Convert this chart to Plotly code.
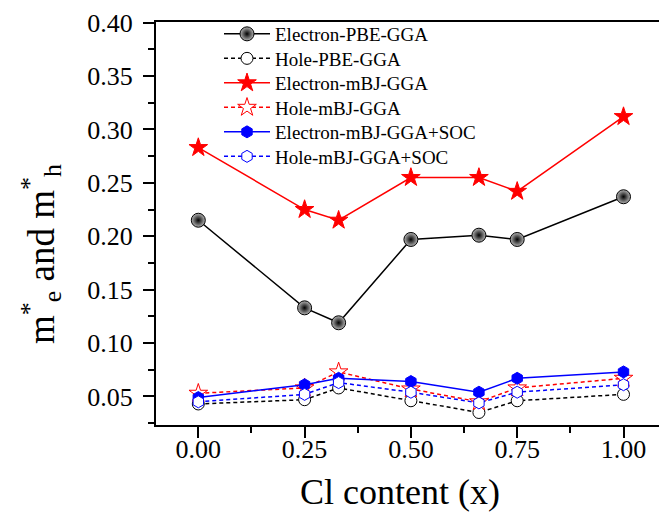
import plotly.graph_objects as go

# Chlorine content x
cl_content = [0.0, 0.25, 0.33, 0.50, 0.66, 0.75, 1.0]

# Effective masses (in units of m0)
electron_pbe = [0.215, 0.133, 0.119, 0.197, 0.201, 0.197, 0.237]
hole_pbe = [0.043, 0.047, 0.058, 0.046, 0.035, 0.046, 0.052]
electron_mbj = [0.283, 0.225, 0.215, 0.255, 0.255, 0.242, 0.312]
hole_mbj = [0.053, 0.058, 0.073, 0.057, 0.045, 0.058, 0.067]
electron_soc = [0.049, 0.061, 0.067, 0.064, 0.054, 0.067, 0.073]
hole_soc = [0.045, 0.052, 0.063, 0.054, 0.044, 0.054, 0.061]

x_ticks = [0.0, 0.25, 0.5, 0.75, 1.0]
y_ticks = [0.05, 0.10, 0.15, 0.20, 0.25, 0.30, 0.35, 0.40]

FONT = "Liberation Serif, Times New Roman, serif"
DASH = "4px,3px"

# plot area in pixels
L, T, W, H = 156, 22, 503, 403

series = [
    ("Electron-PBE-GGA", electron_pbe,
     dict(color="black", width=1.5),
     dict(symbol="circle", size=14, color="#b4b4b4",
          gradient=dict(type="radial", color="black"),
          line=dict(color="black", width=1))),
    ("Hole-PBE-GGA", hole_pbe,
     dict(color="black", width=1.5, dash=DASH),
     dict(symbol="circle", size=12, color="white",
          line=dict(color="black", width=1))),
    ("Electron-mBJ-GGA", electron_mbj,
     dict(color="red", width=1.5),
     dict(symbol="star", size=14, color="red",
          line=dict(color="red", width=1))),
    ("Hole-mBJ-GGA", hole_mbj,
     dict(color="red", width=1.5, dash=DASH),
     dict(symbol="star", size=14, color="white",
          line=dict(color="red", width=1))),
    ("Electron-mBJ-GGA+SOC", electron_soc,
     dict(color="blue", width=1.5),
     dict(symbol="hexagon", size=12, color="blue",
          line=dict(color="blue", width=1))),
    ("Hole-mBJ-GGA+SOC", hole_soc,
     dict(color="blue", width=1.5, dash=DASH),
     dict(symbol="hexagon", size=12, color="white",
          line=dict(color="blue", width=1))),
]

fig = go.Figure()
legend_layout = {}
for i, (name, values, line, marker) in enumerate(series):
    key = "legend" if i == 0 else f"legend{i + 1}"
    fig.add_trace(go.Scatter(
        x=cl_content, y=values, name=name, mode="lines+markers",
        line=line, marker=marker, legend=key,
    ))
    row_center = 34 + 24.5 * i
    legend_layout[key] = dict(
        x=(219 - L) / W, y=(T + H - row_center) / H,
        xanchor="left", yanchor="middle",
        bgcolor="rgba(0,0,0,0)", borderwidth=0,
        font=dict(family=FONT, size=19, color="black"),
        itemwidth=46,
    )

axis_common = dict(
    showgrid=False, zeroline=False,
    showline=True, linecolor="black", linewidth=2,
    ticks="outside", ticklen=11, tickwidth=2, tickcolor="black",
)

fig.update_layout(
    width=659, height=512,
    margin=dict(l=L, r=0, t=T, b=512 - T - H),
    paper_bgcolor="white", plot_bgcolor="white",
    font=dict(family=FONT, color="black"),
    showlegend=True,
    **legend_layout,
    xaxis=dict(
        **axis_common,
        range=[-0.0995, 1.0835],
        tickvals=x_ticks, ticktext=[f"{v:.2f}" for v in x_ticks],
        tickfont=dict(family=FONT, size=26, color="black"),
        ticklabelstandoff=-11,
        minor=dict(dtick=0.125, tick0=0.0, ticks="outside", ticklen=6,
                   tickwidth=2, tickcolor="black"),
        mirror=True,
    ),
    yaxis=dict(
        **axis_common,
        range=[0.0233, 0.4006],
        tickvals=y_ticks, ticktext=[f"{v:.2f}" for v in y_ticks],
        tickfont=dict(family=FONT, size=26, color="black"),
        ticklabelstandoff=5,
        minor=dict(dtick=0.025, tick0=0.025, ticks="outside", ticklen=6,
                   tickwidth=2, tickcolor="black"),
    ),
    annotations=[
        dict(
            text="Cl content (x)", xref="paper", yref="paper",
            x=(400 - L) / W, y=(T + H - 492) / H,
            xanchor="center", yanchor="middle", showarrow=False,
            font=dict(family=FONT, size=36, color="black"),
        ),
        dict(
            text="m<sup>*</sup><sub>e</sub> and m<sup>*</sup><sub>h</sub>",
            xref="paper", yref="paper",
            x=(41 - L) / W, y=(T + H - 254) / H,
            xanchor="center", yanchor="middle", showarrow=False, textangle=-90,
            font=dict(family=FONT, size=37, color="black"),
        ),
    ],
)

fig.write_html("out.html")
